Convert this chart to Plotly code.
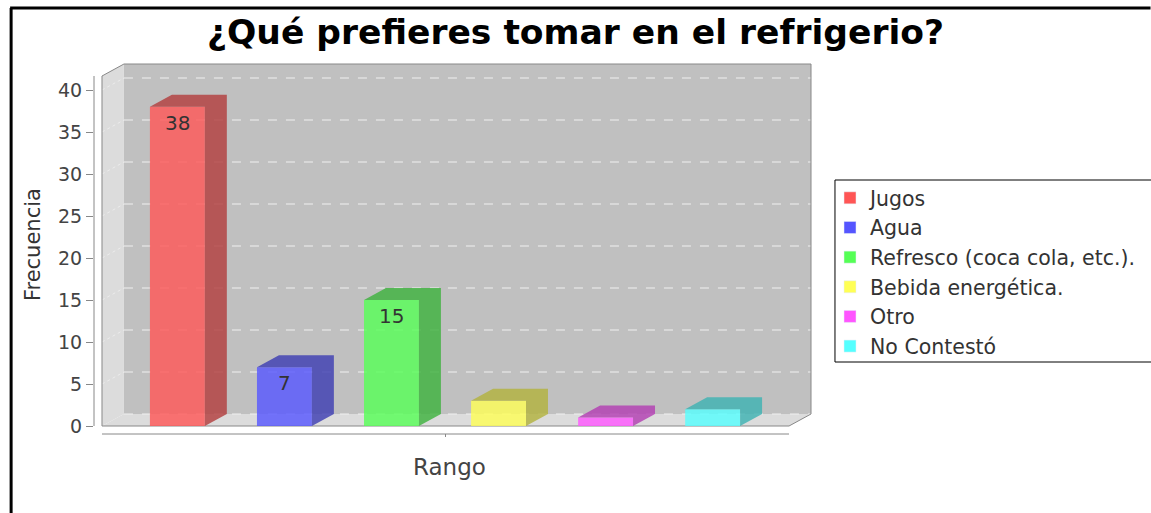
import plotly.graph_objects as go

# ---------------- data ----------------
categories = ["Jugos", "Agua", "Refresco (coca cola, etc.).", "Bebida energética.", "Otro", "No Contestó"]
values = [38, 7, 15, 3, 1, 2]
base_colors = [(255, 85, 85), (85, 85, 255), (85, 255, 85), (255, 255, 85), (255, 85, 255), (85, 255, 255)]
y_ticks = [0, 5, 10, 15, 20, 25, 30, 35, 40]
title_text = "¿Qué prefieres tomar en el refrigerio?"
x_title = "Rango"
y_title = "Frecuencia"

# ---------------- geometry (pixels) ----------------
W, H = 1151, 513
plot_l, plot_r, plot_t, plot_b = 94, 815, 62, 437
PXX, PXY = 107.2, 8.4          # px per category step, px per value unit
x0px, y0px = 177.5, 426.0      # pixel of category 0 / value 0
DX, DY = 22 / PXX, 12 / PXY    # 3D depth in data units
BW = 55 / PXX                  # bar width in data units

xr = [(plot_l - x0px) / PXX, (plot_r - x0px) / PXX]
yr = [(y0px - plot_b) / PXY, (y0px - plot_t) / PXY]

def dx_(px):
    return (px - x0px) / PXX

def dy_(py):
    return (y0px - py) / PXY

def paperx(px):
    return (px - plot_l) / (plot_r - plot_l)

def papery(py):
    return (plot_b - py) / (plot_b - plot_t)

FONT = "DejaVu Sans"

def rgba(c, a=0.8, f=1.0):
    return "rgba(%d,%d,%d,%.2f)" % (int(c[0] * f), int(c[1] * f), int(c[2] * f), a)

fig = go.Figure()

xs = list(range(len(values)))

# side + top faces
for i, v in enumerate(values):
    l, r = i - BW / 2, i + BW / 2
    px = [l, l + DX, r + DX, r + DX, r, r, l]
    py = [v, v + DY, v + DY, DY, 0, v, v]
    fig.add_trace(go.Scatter(x=px, y=py, mode="lines", fill="toself",
                             fillcolor=rgba(base_colors[i], 0.8, 0.7),
                             line=dict(width=0), showlegend=False, hoverinfo="skip"))

# front faces
fig.add_trace(go.Bar(x=xs, y=values, width=BW,
                     marker=dict(color=[rgba(c) for c in base_colors], line=dict(width=0)),
                     showlegend=False, hoverinfo="skip"))

# legend entries
for i, name in enumerate(categories):
    fig.add_trace(go.Bar(x=[None], y=[None], name=name, legendgroup=name,
                         marker=dict(color=rgba(base_colors[i], 1.0))))

# value labels
for i, v in enumerate(values):
    if v * PXY >= 30:
        fig.add_annotation(x=i, y=v, text=str(v), showarrow=False, yshift=-16,
                           font=dict(family=FONT, size=20, color="#333333"))

# ---------------- 3D walls ----------------
fl, fr = dx_(102), dx_(790)          # front-left / front-right of floor
wall_top = dy_(76)
shapes = []
# back wall
shapes.append(dict(type="rect", xref="x", yref="y", x0=fl + DX, x1=fr + DX, y0=DY, y1=wall_top + DY,
                   fillcolor="#c0c0c0", line=dict(width=0), layer="below"))
# side wall
shapes.append(dict(type="path", xref="x", yref="y",
                   path="M%f,%f L%f,%f L%f,%f L%f,%f Z" % (fl, 0, fl, wall_top, fl + DX, wall_top + DY, fl + DX, DY),
                   fillcolor="#dcdcdc", line=dict(width=0), layer="below"))
# floor
shapes.append(dict(type="path", xref="x", yref="y",
                   path="M%f,%f L%f,%f L%f,%f L%f,%f Z" % (fl, 0, fl + DX, DY, fr + DX, DY, fr, 0),
                   fillcolor="#dcdcdc", line=dict(width=0), layer="below"))
# gridlines
for t in y_ticks:
    shapes.append(dict(type="line", xref="x", yref="y", x0=fl + DX, x1=fr + DX, y0=t + DY, y1=t + DY,
                       line=dict(color="#f0f0f0", width=1, dash="dash"), layer="below"))
    if t > 0:
        shapes.append(dict(type="line", xref="x", yref="y", x0=fl, x1=fl + DX, y0=t, y1=t + DY,
                           line=dict(color="#ececec", width=1, dash="dot"), layer="below"))
# outline
shapes.append(dict(type="path", xref="x", yref="y",
                   path="M%f,%f L%f,%f L%f,%f L%f,%f L%f,%f L%f,%f Z" % (
                       fl, 0, fl, wall_top, fl + DX, wall_top + DY, fr + DX, wall_top + DY, fr + DX, DY, fr, 0),
                   line=dict(color="#888888", width=1), layer="below"))
# y axis line
shapes.append(dict(type="line", xref="paper", yref="y", x0=0, x1=0, y0=0, y1=wall_top,
                   line=dict(color="#888888", width=1)))
# x axis line + tick
shapes.append(dict(type="line", xref="x", yref="y", x0=fl, x1=fr, y0=dy_(434), y1=dy_(434),
                   line=dict(color="#888888", width=1)))
xc = (fl + fr) / 2
shapes.append(dict(type="line", xref="x", yref="y", x0=xc, x1=xc, y0=dy_(434), y1=dy_(438),
                   line=dict(color="#888888", width=1)))
# outer frame
shapes.append(dict(type="line", xref="paper", yref="paper", x0=paperx(10), x1=paperx(1152),
                   y0=papery(8), y1=papery(8), line=dict(color="black", width=3)))
shapes.append(dict(type="line", xref="paper", yref="paper", x0=paperx(11), x1=paperx(11),
                   y0=papery(8), y1=papery(514), line=dict(color="black", width=3)))
# legend border
shapes.append(dict(type="rect", xref="paper", yref="paper", x0=paperx(836), x1=paperx(1160),
                   y0=papery(362), y1=papery(180), line=dict(color="black", width=1),
                   fillcolor="white", layer="below"))

fig.update_layout(shapes=shapes)

# axis titles
fig.add_annotation(xref="paper", yref="paper", x=paperx(450), y=papery(467), text=x_title,
                   showarrow=False, font=dict(family=FONT, size=23, color="#444444"),
                   xanchor="center", yanchor="middle")
fig.add_annotation(xref="paper", yref="paper", x=paperx(33), y=papery(245), text=y_title,
                   textangle=-90, showarrow=False, font=dict(family=FONT, size=21, color="#333333"),
                   xanchor="center", yanchor="middle")

fig.update_layout(
    width=W, height=H,
    margin=dict(l=plot_l, r=W - plot_r, t=plot_t, b=H - plot_b, pad=0),
    paper_bgcolor="white", plot_bgcolor="rgba(0,0,0,0)",
    title=dict(text="<b>" + title_text + "</b>", x=0.5, xref="container", xanchor="center",
               y=1 - 32 / H, yref="container", yanchor="middle",
               font=dict(family=FONT, size=34.5, color="black")),
    xaxis=dict(range=xr, visible=False, fixedrange=True),
    yaxis=dict(range=yr, tickvals=y_ticks, ticks="outside", ticklen=7, tickcolor="#888888",
               showgrid=False, zeroline=False, showline=False,
               tickfont=dict(family=FONT, size=19, color="#444444")),
    showlegend=True,
    legend=dict(x=paperx(830), y=papery(178), xanchor="left", yanchor="top",
                borderwidth=0, bgcolor="rgba(0,0,0,0)",
                traceorder="grouped", tracegroupgap=0,
                font=dict(family=FONT, size=20.5, color="#333333")),
    barmode="overlay",
)

fig.write_html("out.html", config={"displayModeBar": False},
               post_script="document.body.style.margin='0px';document.body.style.overflow='hidden';")
